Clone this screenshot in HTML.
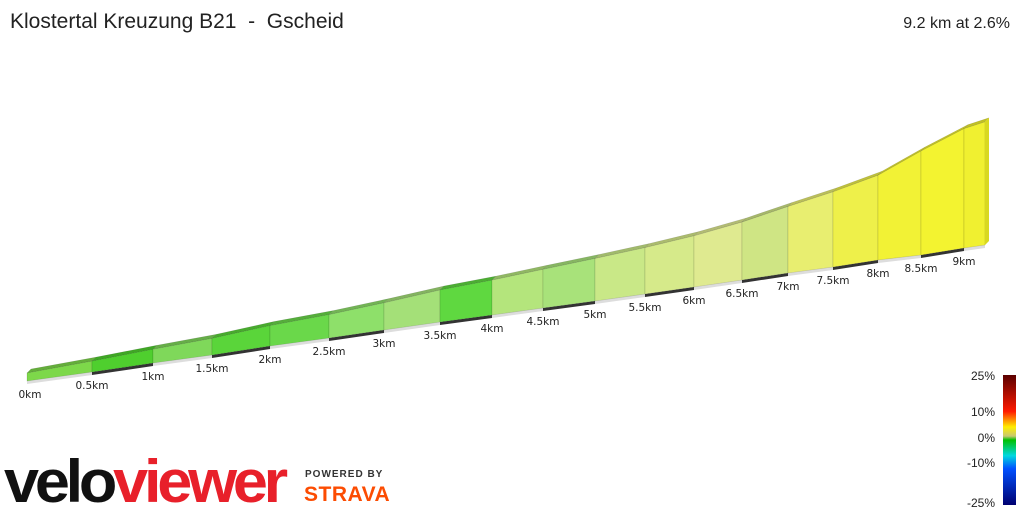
<!DOCTYPE html>
<html><head><meta charset="utf-8"><style>
body{margin:0;background:#fff;width:1024px;height:512px;overflow:hidden;font-family:"Liberation Sans",sans-serif}
</style></head><body>
<svg id="chart" width="1024" height="512" viewBox="0 0 1024 512" xmlns="http://www.w3.org/2000/svg">
<defs>
<linearGradient id="cb" x1="0" y1="0" x2="0" y2="1">
<stop offset="0" stop-color="#5a0000"/><stop offset="0.28" stop-color="#ff1a00"/><stop offset="0.4" stop-color="#ffee00"/><stop offset="0.47" stop-color="#c8c870"/><stop offset="0.5" stop-color="#00c000"/><stop offset="0.62" stop-color="#00d8e0"/><stop offset="0.72" stop-color="#0050ff"/><stop offset="1" stop-color="#000070"/>
</linearGradient>
</defs>
<text x="10" y="28" font-size="21" fill="#222" style="white-space:pre">Klostertal Kreuzung B21&#160;&#160;-&#160;&#160;Gscheid</text>
<text x="1010" y="28" font-size="16" fill="#222" text-anchor="end">9.2 km at 2.6%</text>
<g id="profile"></g>
<g>
<rect x="1003" y="375" width="13" height="130" fill="url(#cb)"/>
<text x="995" y="380" font-size="12" text-anchor="end" fill="#222">25%</text>
<text x="995" y="416" font-size="12" text-anchor="end" fill="#222">10%</text>
<text x="995" y="442" font-size="12" text-anchor="end" fill="#222">0%</text>
<text x="995" y="467" font-size="12" text-anchor="end" fill="#222">-10%</text>
<text x="995" y="507" font-size="12" text-anchor="end" fill="#222">-25%</text>
</g>
<g>
<text x="4" y="502" font-size="60" font-weight="bold" letter-spacing="-4" fill="#111" textLength="280" lengthAdjust="spacingAndGlyphs">velo<tspan fill="#e8202a">viewer</tspan></text>
</g>
<g>
<text x="305" y="477" font-size="10" font-weight="bold" fill="#333" letter-spacing="1">POWERED BY</text>
<text x="304" y="501" font-size="21" font-weight="bold" fill="#fc4c02" letter-spacing="0.5">STRAVA</text>
</g>
</svg>
<script>
const kmTicks=[0,0.5,1,1.5,2,2.5,3,3.5,4,4.5,5,5.5,6,6.5,7,7.5,8,8.5,9,9.2];
const tickLabels=["0km","0.5km","1km","1.5km","2km","2.5km","3km","3.5km","4km","4.5km","5km","5.5km","6km","6.5km","7km","7.5km","8km","8.5km","9km",""];
const elevation=[0,6,12,18,26,32,40,50,56,64,72,80,90,104,122,140,160,200,232,240];
const segColors=["#7dd84a","#4fcf2e","#7fd85a","#5ad53a","#6ad84a","#8ee06a","#a4e078","#5fd840","#b4e57c","#a8e27a","#c9e887","#d6ea8a","#dfea90","#cfe584","#e8ee70","#eef04a","#f2f235","#f3f330","#f0f030"];
const bx=[27,92,153,212,270,329,384,440,492,543,595,645,694,742,788,833,878,921,964,985];
const by=[381,372,363,355,346,338,330,322,315,308,301,294,287,280,273,267,260,255,248,245];
function X(d){let i=kmTicks.findIndex((k,j)=>j<kmTicks.length-1&&d>=k&&d<=kmTicks[j+1]);if(i<0)i=kmTicks.length-2;const t=(d-kmTicks[i])/(kmTicks[i+1]-kmTicks[i]);return bx[i]+t*(bx[i+1]-bx[i]);}
function Y(d){let i=kmTicks.findIndex((k,j)=>j<kmTicks.length-1&&d>=k&&d<=kmTicks[j+1]);if(i<0)i=kmTicks.length-2;const t=(d-kmTicks[i])/(kmTicks[i+1]-kmTicks[i]);return by[i]+t*(by[i+1]-by[i]);}
function H(e){return 8+e*0.48;}
const NS="http://www.w3.org/2000/svg";
const g=document.getElementById('profile');
function mk(tag,attrs){const e=document.createElementNS(NS,tag);for(const k in attrs)e.setAttribute(k,attrs[k]);return e;}
for(let i=0;i<kmTicks.length-1;i++){
 const a=kmTicks[i],b=kmTicks[i+1];
 const p=mk('polygon',{points:`${X(a)},${Y(a)} ${X(b)},${Y(b)} ${X(b)},${Y(b)+3} ${X(a)},${Y(a)+3}`,fill:i%2?'#333':'#ddd'});
 
 
 g.appendChild(p);
}
for(let i=0;i<kmTicks.length-1;i++){
 const a=kmTicks[i],b=kmTicks[i+1];
 const x1=X(a),x2=X(b),y1=Y(a),y2=Y(b);
 const t1=y1-H(elevation[i]),t2=y2-H(elevation[i+1]);
 const top=mk('polygon',{points:`${x1},${t1} ${x2},${t2} ${x2+4},${t2-4} ${x1+4},${t1-4}`,fill:segColors[i],stroke:'rgba(0,0,0,0.15)','stroke-width':0.5});
 top.setAttribute('style','filter:brightness(0.8)');
 
 
 g.appendChild(top);
 const seg=mk('polygon',{points:`${x1},${y1} ${x2},${y2} ${x2},${t2} ${x1},${t1}`,fill:segColors[i],stroke:'rgba(0,0,0,0.18)','stroke-width':0.6});
 
 
 g.appendChild(seg);
}
{const n=kmTicks.length-1;const x=X(kmTicks[n]),y=Y(kmTicks[n]),t=y-H(elevation[n]);
 const f=mk('polygon',{points:`${x},${y} ${x+4},${y-4} ${x+4},${t-4} ${x},${t}`,fill:'#d8d820'});
 
 
 g.appendChild(f);}
for(let i=0;i<kmTicks.length;i++){
 if(!tickLabels[i])continue;
 const t=mk('text',{x:X(kmTicks[i])+(i==0?3:0),y:Y(kmTicks[i])+17,'font-size':10.5,'font-family':'DejaVu Sans, sans-serif','text-anchor':'middle',fill:'#222'});
 t.textContent=tickLabels[i];
 
 
 g.appendChild(t);
}
</script>
</body></html>
